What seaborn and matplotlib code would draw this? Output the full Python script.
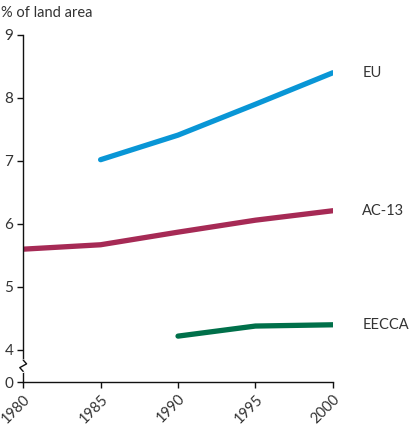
import pandas as pd
import matplotlib
matplotlib.use("Agg")
import matplotlib.pyplot as plt
import seaborn as sns

# ── Data ─────────────────────────────────────────────────────────────────────
eu_years = [1985, 1990, 1995, 2000]
eu_values = [7.02, 7.41, 7.90, 8.40]

ac13_years = [1980, 1985, 1990, 1995, 2000]
ac13_values = [5.60, 5.67, 5.87, 6.06, 6.21]

eccca_years = [1990, 1995, 2000]
eccca_values = [4.22, 4.38, 4.40]

series_names = ["EU", "AC-13", "EECCA"]
x_ticks = [1980, 1985, 1990, 1995, 2000]
y_ticks = [4, 5, 6, 7, 8, 9]

df = pd.concat([
    pd.DataFrame({"year": eu_years, "value": eu_values, "region": "EU"}),
    pd.DataFrame({"year": ac13_years, "value": ac13_values, "region": "AC-13"}),
    pd.DataFrame({"year": eccca_years, "value": eccca_values, "region": "EECCA"}),
])

palette = {"EU": "#0996d6", "AC-13": "#a62a55", "EECCA": "#00704a"}

sns.set_style("white")
plt.rcParams["font.family"] = ["Lato", "DejaVu Sans"]
text_color = "#333333"

fig = plt.figure(figsize=(4.14, 4.26), dpi=100)
ax = fig.add_axes([0.056, 0.103, 0.748, 0.815])

sns.lineplot(data=df, x="year", y="value", hue="region", palette=palette,
             linewidth=3.8, ax=ax, legend=False, solid_capstyle="round")

# broken axis: "0" sits a short distance under the 4
zero_pos = 3.49
ax.set_ylim(zero_pos, 9)
ax.set_xlim(1980, 2000)
ax.set_yticks([zero_pos] + y_ticks)
ax.set_yticklabels(["0"] + [str(v) for v in y_ticks])
ax.set_xticks(x_ticks)
ax.set_xticklabels([str(v) for v in x_ticks], rotation=45, ha="right",
                   va="top", rotation_mode="anchor")
ax.set_xlabel("")
ax.set_ylabel("")

for side in ["top", "right"]:
    ax.spines[side].set_visible(False)
for side in ["left", "bottom"]:
    ax.spines[side].set_color("#111111")
    ax.spines[side].set_linewidth(1.0)

ax.tick_params(axis="both", direction="out", length=4, width=1.0,
               color="#111111", labelcolor=text_color,
               bottom=True, left=True)
ax.tick_params(axis="y", pad=3, labelsize=11)
ax.tick_params(axis="x", pad=3, labelsize=10.5)

# zigzag break on the y axis
bx = 1980
ax.plot([bx, bx], [3.67, 3.83], color="white", lw=3, clip_on=False, zorder=5)
ax.plot([bx, bx - 0.22, bx + 0.22, bx], [3.66, 3.72, 3.78, 3.84],
        color="#111111", lw=1.0, clip_on=False, zorder=6)

# series labels at right
last = {"EU": eu_values[-1], "AC-13": ac13_values[-1], "EECCA": eccca_values[-1]}
for name in series_names:
    ax.text(2001.9, last[name], name, fontsize=10.5, color=text_color,
            va="center", ha="left", clip_on=False)

fig.text(0.002, 0.985, "% of land area", fontsize=10.5, color=text_color,
         va="top", ha="left")

fig.savefig("out.png", dpi=100)
